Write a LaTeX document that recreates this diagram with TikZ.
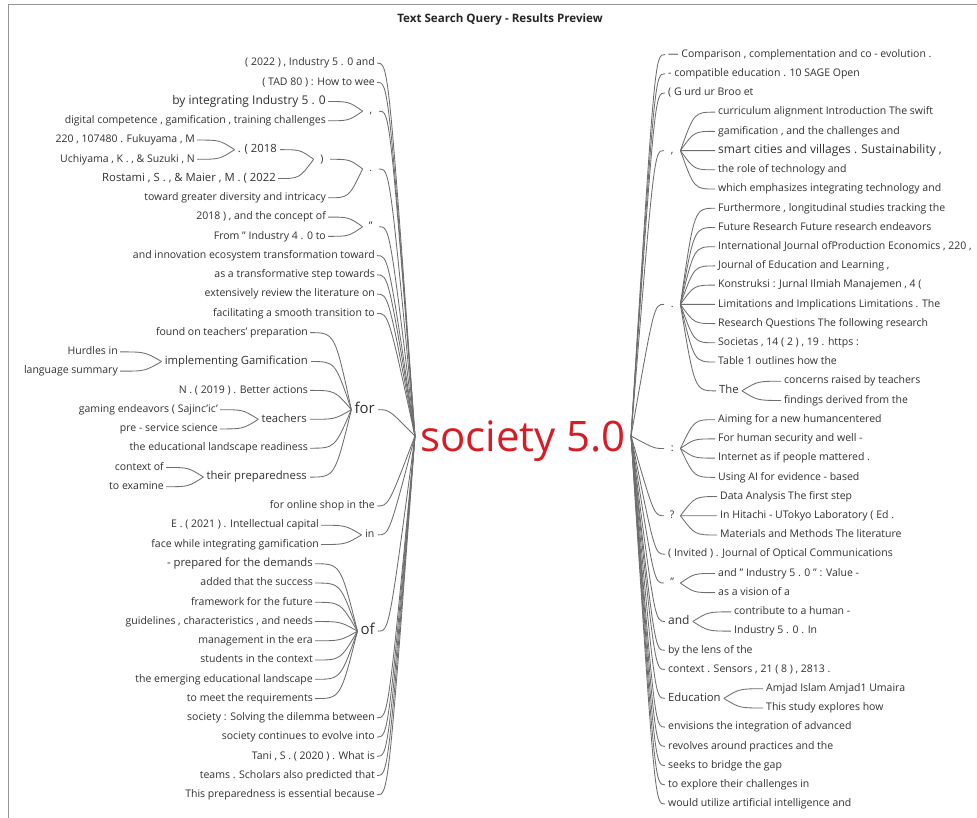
\documentclass[tikz,border=0pt]{standalone}
\usepackage{fontspec}
\setmainfont{Open Sans}
\usetikzlibrary{calc}
\definecolor{wtext}{RGB}{50,50,50}
\definecolor{wline}{RGB}{110,110,110}
\definecolor{rootred}{RGB}{214,28,36}
\definecolor{framegray}{RGB}{150,150,150}
% row positions of the two columns of the word tree
\newcommand\LY[1]{63+19.26*(#1)}
\newcommand\RY[1]{54.5+19.22*(#1)}
% curved branch: left side (child -> parent), right side (parent -> child);
% the optional factor sets how far the bend reaches towards the parent
\newcommand\wlk[3][0.6]{\draw[link] (#2.east) .. controls ($(#2.east)!#1!(#2.east -| #3.west)$) .. (#3.west);}
\newcommand\wrk[3][0.6]{\draw[link] (#2.east) .. controls ($(#3.west)!#1!(#3.west -| #2.east)$) .. (#3.west);}
\tikzset{
  word/.style={text=wtext, inner ysep=0pt, text height=7.5pt, text depth=2pt,
    font=\fontsize{10.5}{12}\selectfont},
  lleaf/.style={word, anchor=east, inner xsep=2pt},
  rleaf/.style={word, anchor=west, inner xsep=3pt},
  lhub/.style={word, anchor=east, inner xsep=3pt, minimum width=16pt},
  rhub/.style={word, anchor=west, inner xsep=3pt, minimum width=16pt},
  big/.style={font=\fontsize{12}{14}\selectfont},
  mid/.style={font=\fontsize{11.3}{13}\selectfont},
  large/.style={font=\fontsize{15}{17}\selectfont, text height=10pt, text depth=3pt},
  link/.style={draw=wline, line width=0.85pt},
}
\begin{document}
\begin{tikzpicture}[x=1pt,y=-1pt]
\useasboundingbox (0,0) rectangle (977,818);
\fill[white] (0,0) rectangle (977,818);
% frame
\draw[framegray, line width=1.5pt] (8.5,818) -- (8.5,4.5) -- (977,4.5);

\node[font=\bfseries\fontsize{11.6}{13}\selectfont, text=black!85] (title) at (500,19) {Text Search Query - Results Preview};

\node[text=rootred, font=\fontsize{42}{48}\selectfont, inner xsep=5pt, inner ysep=0pt,
      text height=30pt, text depth=0pt] (root) at (523,436) {society 5.0};

% ---------- left side ----------
\node[lleaf] (l0) at (377,{\LY{0}}) {( 2022 ) , Industry 5 . 0 and};
\node[lleaf] (l1) at (377,{\LY{1}}) {( TAD 80 ) : How to wee};
\node[lhub] (lc1) at (379,{\LY{2.5}}) {,};
\node[lleaf,big] (l2) at (328,{\LY{2}}) {by integrating Industry 5 . 0};
\node[lleaf] (l3) at (328,{\LY{3}}) {digital competence , gamification , training challenges};
\node[lhub] (ld1) at (379,{\LY{5.5}}) {.};
\node[lhub] (lp1) at (330,{\LY{5}}) {)};
\node[lhub,mid] (ly1) at (280,{\LY{4.5}}) {. ( 2018};
\node[lleaf] (l4) at (197,{\LY{4}}) {220 , 107480 . Fukuyama , M};
\node[lleaf] (l5) at (197,{\LY{5}}) {Uchiyama , K . , \& Suzuki , N};
\node[lleaf,mid] (l6) at (278,{\LY{6}}) {Rostami , S . , \& Maier , M . ( 2022};
\node[lleaf] (l7) at (328,{\LY{7}}) {toward greater diversity and intricacy};
\node[lhub] (lq1) at (379,{\LY{8.5}}) {"};
\node[lleaf] (l8) at (328,{\LY{8}}) {2018 ) , and the concept of};
\node[lleaf] (l9) at (328,{\LY{9}}) {From " Industry 4 . 0 to};
\node[lleaf] (l10) at (377,{\LY{10}}) {and innovation ecosystem transformation toward};
\node[lleaf] (l11) at (377,{\LY{11}}) {as a transformative step towards};
\node[lleaf] (l12) at (377,{\LY{12}}) {extensively review the literature on};
\node[lleaf] (l13) at (377,{\LY{13}}) {facilitating a smooth transition to};

\node[lhub,large] (lfor) at (378,{\LY{18}}) {for};
\node[lleaf] (l14) at (310,{\LY{14}}) {found on teachers' preparation};
\node[lhub,mid] (lgam) at (311,{\LY{15.5}}) {implementing Gamification};
\node[lleaf] (l15) at (120,{\LY{15}}) {Hurdles in};
\node[lleaf] (l16) at (120,{\LY{16}}) {language summary};
\node[lleaf] (l17) at (310,{\LY{17}}) {N . ( 2019 ) . Better actions};
\node[lhub,mid] (ltea) at (310,{\LY{18.5}}) {teachers};
\node[lleaf] (l18) at (220,{\LY{18}}) {gaming endeavors ( Sajinc'ic'};
\node[lleaf] (l19) at (220,{\LY{19}}) {pre - service science};
\node[lleaf] (l20) at (310,{\LY{20}}) {the educational landscape readiness};
\node[lhub,mid] (lpre) at (310,{\LY{21.5}}) {their preparedness};
\node[lleaf] (l21) at (166,{\LY{21}}) {context of};
\node[lleaf] (l22) at (166,{\LY{22}}) {to examine};

\node[lleaf] (l23) at (377,{\LY{23}}) {for online shop in the};
\node[lhub] (lin) at (378,{\LY{24.5}}) {in};
\node[lleaf] (l24) at (321,{\LY{24}}) {E . ( 2021 ) . Intellectual capital};
\node[lleaf] (l25) at (321,{\LY{25}}) {face while integrating gamification};

\node[lhub,large] (lof) at (378,{\LY{29.5}}) {of};
\node[lleaf,mid] (l26) at (315,{\LY{26}}) {- prepared for the demands};
\node[lleaf] (l27) at (315,{\LY{27}}) {added that the success};
\node[lleaf] (l28) at (315,{\LY{28}}) {framework for the future};
\node[lleaf] (l29) at (315,{\LY{29}}) {guidelines , characteristics , and needs};
\node[lleaf] (l30) at (315,{\LY{30}}) {management in the era};
\node[lleaf] (l31) at (315,{\LY{31}}) {students in the context};
\node[lleaf] (l32) at (315,{\LY{32}}) {the emerging educational landscape};
\node[lleaf] (l33) at (315,{\LY{33}}) {to meet the requirements};

\node[lleaf] (l34) at (377,{\LY{34}}) {society : Solving the dilemma between};
\node[lleaf] (l35) at (377,{\LY{35}}) {society continues to evolve into};
\node[lleaf] (l36) at (377,{\LY{36}}) {Tani , S . ( 2020 ) . What is};
\node[lleaf] (l37) at (377,{\LY{37}}) {teams . Scholars also predicted that};
\node[lleaf] (l38) at (377,{\LY{38}}) {This preparedness is essential because};

% left branches
\foreach \a/\b in {l2/lc1, l3/lc1, l4/ly1, l5/ly1, ly1/lp1, l6/lp1, lp1/ld1, l7/ld1,
  l8/lq1, l9/lq1, l15/lgam, l16/lgam, l18/ltea, l19/ltea, l21/lpre, l22/lpre,
  l14/lfor, lgam/lfor, l17/lfor, ltea/lfor, l20/lfor, lpre/lfor,
  l24/lin, l25/lin, l26/lof, l27/lof, l28/lof, l29/lof, l30/lof, l31/lof, l32/lof, l33/lof}
  {\wlk{\a}{\b}}
% left trunk into the root
\foreach \a in {l0, l1, lc1, ld1, lq1, l10, l11, l12, l13,
  lfor, l23, lin, lof, l34, l35, l36, l37, l38}
  {\wlk[0.3]{\a}{root}}

% ---------- right side ----------
\node[rleaf] (r0) at (665,{\RY{0}}) {— Comparison , complementation and co - evolution .};
\node[rleaf] (r1) at (665,{\RY{1}}) {- compatible education . 10 SAGE Open};
\node[rleaf] (r2) at (665,{\RY{2}}) {( G urd ur Broo et};
\node[rhub] (rc1) at (664,{\RY{5}}) {,};
\node[rleaf] (r3) at (715,{\RY{3}}) {curriculum alignment Introduction The swift};
\node[rleaf] (r4) at (715,{\RY{4}}) {gamification , and the challenges and};
\node[rleaf,big] (r5) at (715,{\RY{5}}) {smart cities and villages . Sustainability ,};
\node[rleaf] (r6) at (715,{\RY{6}}) {the role of technology and};
\node[rleaf] (r7) at (715,{\RY{7}}) {which emphasizes integrating technology and};
\node[rhub] (rd1) at (664,{\RY{13}}) {.};
\node[rleaf] (r8) at (715,{\RY{8}}) {Furthermore , longitudinal studies tracking the};
\node[rleaf] (r9) at (715,{\RY{9}}) {Future Research Future research endeavors};
\node[rleaf] (r10) at (715,{\RY{10}}) {International Journal ofProduction Economics , 220 ,};
\node[rleaf] (r11) at (715,{\RY{11}}) {Journal of Education and Learning ,};
\node[rleaf] (r12) at (715,{\RY{12}}) {Konstruksi : Jurnal Ilmiah Manajemen , 4 (};
\node[rleaf] (r13) at (715,{\RY{13}}) {Limitations and Implications Limitations . The};
\node[rleaf] (r14) at (715,{\RY{14}}) {Research Questions The following research};
\node[rleaf] (r15) at (715,{\RY{15}}) {Societas , 14 ( 2 ) , 19 . https :};
\node[rleaf] (r16) at (715,{\RY{16}}) {Table 1 outlines how the};
\node[rhub,mid] (rthe) at (716,{\RY{17.5}}) {The};
\node[rleaf] (r17) at (781,{\RY{17}}) {concerns raised by teachers};
\node[rleaf] (r18) at (781,{\RY{18}}) {findings derived from the};
\node[rhub] (rcol) at (664,{\RY{20.5}}) {:};
\node[rleaf] (r19) at (715,{\RY{19}}) {Aiming for a new humancentered};
\node[rleaf] (r20) at (715,{\RY{20}}) {For human security and well -};
\node[rleaf] (r21) at (715,{\RY{21}}) {Internet as if people mattered .};
\node[rleaf] (r22) at (715,{\RY{22}}) {Using AI for evidence - based};
\node[rhub] (rqm) at (664,{\RY{24}}) {?};
\node[rleaf] (r23) at (717,{\RY{23}}) {Data Analysis The first step};
\node[rleaf] (r24) at (717,{\RY{24}}) {In Hitachi - UTokyo Laboratory ( Ed .};
\node[rleaf] (r25) at (717,{\RY{25}}) {Materials and Methods The literature};
\node[rleaf] (r26) at (665,{\RY{26}}) {( Invited ) . Journal of Optical Communications};
\node[rhub] (rq2) at (664,{\RY{27.5}}) {"};
\node[rleaf] (r27) at (715,{\RY{27}}) {and " Industry 5 . 0 " : Value -};
\node[rleaf] (r28) at (715,{\RY{28}}) {as a vision of a};
\node[rhub,big] (rand) at (665,{\RY{29.5}}) {and};
\node[rleaf] (r29) at (731,{\RY{29}}) {contribute to a human -};
\node[rleaf] (r30) at (731,{\RY{30}}) {Industry 5 . 0 . In};
\node[rleaf] (r31) at (665,{\RY{31}}) {by the lens of the};
\node[rleaf] (r32) at (665,{\RY{32}}) {context . Sensors , 21 ( 8 ) , 2813 .};
\node[rhub,mid] (redu) at (665,{\RY{33.5}}) {Education};
\node[rleaf] (r33) at (763,{\RY{33}}) {Amjad Islam Amjad1 Umaira};
\node[rleaf] (r34) at (763,{\RY{34}}) {This study explores how};
\node[rleaf] (r35) at (665,{\RY{35}}) {envisions the integration of advanced};
\node[rleaf] (r36) at (665,{\RY{36}}) {revolves around practices and the};
\node[rleaf] (r37) at (665,{\RY{37}}) {seeks to bridge the gap};
\node[rleaf] (r38) at (665,{\RY{38}}) {to explore their challenges in};
\node[rleaf] (r39) at (665,{\RY{39}}) {would utilize artificial intelligence and};

% right branches
\foreach \a/\b in {rc1/r3, rc1/r4, rc1/r5, rc1/r6, rc1/r7,
  rd1/r8, rd1/r9, rd1/r10, rd1/r11, rd1/r12, rd1/r13, rd1/r14, rd1/r15, rd1/r16, rd1/rthe,
  rthe/r17, rthe/r18, rcol/r19, rcol/r20, rcol/r21, rcol/r22, rqm/r23, rqm/r24, rqm/r25,
  rq2/r27, rq2/r28, rand/r29, rand/r30, redu/r33, redu/r34}
  {\wrk{\a}{\b}}
% right trunk out of the root
\foreach \b in {r0, r1, r2, rc1, rd1, rcol, rqm, r26, rq2,
  rand, r31, r32, redu, r35, r36, r37, r38, r39}
  {\wrk[0.3]{root}{\b}}
\end{tikzpicture}
\end{document}
